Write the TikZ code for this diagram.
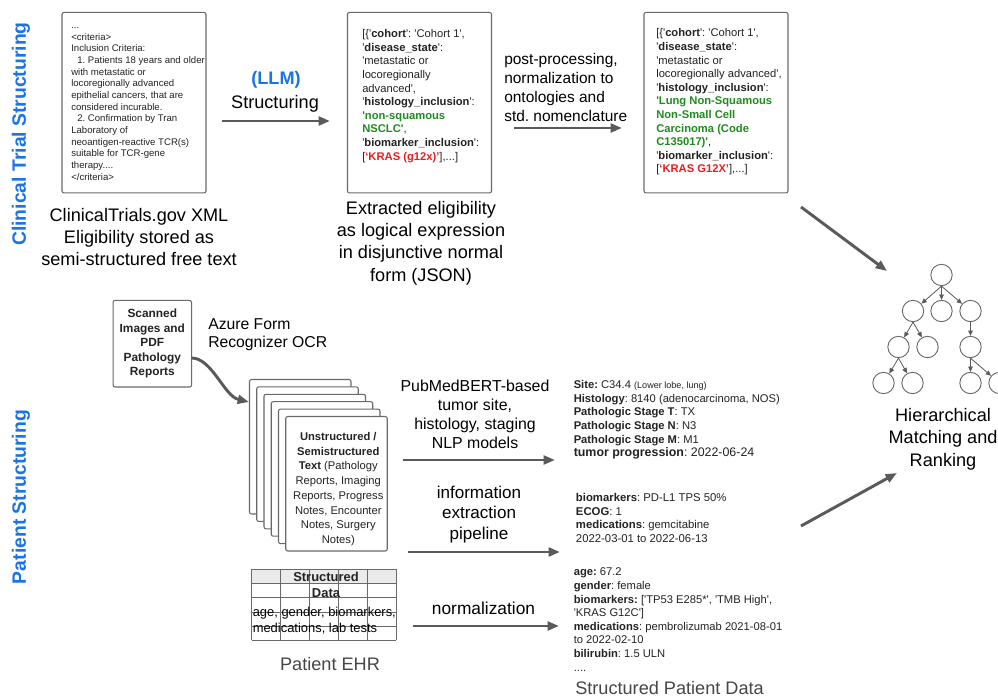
\documentclass[tikz,border=0pt]{standalone}
\usepackage{fontspec}
\setmainfont{Liberation Sans}[Ligatures=TeXOff]
\usetikzlibrary{arrows.meta}
\definecolor{ctblue}{RGB}{26,115,232}
\definecolor{jsgreen}{RGB}{30,140,30}
\definecolor{jsred}{RGB}{235,30,30}
\definecolor{arrgray}{RGB}{90,90,90}
\definecolor{boxgray}{RGB}{105,105,105}
\definecolor{txtdark}{RGB}{35,35,35}
\definecolor{capgray}{RGB}{70,70,70}
\frenchspacing

\begin{document}
\begin{tikzpicture}[x=0.75pt,y=-0.75pt,
  doc/.style={draw=boxgray,line width=0.8pt,rounded corners=1.5pt,fill=white},
  flow/.style={draw=arrgray,line width=2.2pt,-{Triangle[length=8.5pt,width=6.5pt]}},
  treearr/.style={draw=arrgray,line width=0.6pt,-{Triangle[length=4pt,width=3.5pt]}},
  leaf/.style={circle,draw=boxgray,line width=0.7pt,minimum size=16pt,inner sep=0pt},
  capt/.style={font=\fontsize{13.6}{16.7}\selectfont,align=center,inner sep=0pt},
  lbl/.style={font=\fontsize{11.8}{14.2}\selectfont,align=center,inner sep=0pt},
  small/.style={font=\fontsize{8.4}{10.2}\selectfont,align=left,inner sep=0pt,text=txtdark},
  sidelab/.style={rotate=90,text=ctblue,font=\bfseries\fontsize{14.5}{17}\selectfont}
]
\path[fill=white] (0,0) rectangle (998,698);
\useasboundingbox (0,0) rectangle (998,698);

% side labels
\node[sidelab] (ctlab) at (21,134) {Clinical Trial Structuring};
\node[sidelab] (ptlab) at (21,497) {Patient Structuring};

% ---- trial structuring row ----
\node[doc,minimum width=108pt,minimum height=135.4pt] (xml) at (134,102.7) {};
\node[small,anchor=west,font=\fontsize{7.2}{8.75}\selectfont] (xmltxt) at (71,104) {...\\
<criteria>\\
Inclusion Criteria:\\
\hspace*{4.5pt}1. Patients 18 years and older\\
with metastatic or\\
locoregionally advanced\\
epithelial cancers, that are\\
considered incurable.\\
\hspace*{4.5pt}2. Confirmation by Tran\\
Laboratory of\\
neoantigen-reactive TCR(s)\\
suitable for TCR-gene\\
therapy....\\
</criteria>};
\node[capt] (xmlcap) at (139,237) {ClinicalTrials.gov XML\\Eligibility stored as\\semi-structured free text};

\node[text=ctblue,font=\bfseries\fontsize{13.6}{16}\selectfont] (llm) at (276,80) {(LLM)};
\node[font=\fontsize{13.6}{16}\selectfont] (struc) at (275,103.5) {Structuring};
\coordinate (llmS) at (222,121);
\coordinate (llmE) at (330,121);
\draw[flow] (llmS) -- (llmE);

\node[doc,minimum width=108pt,minimum height=135.4pt] (dnf) at (419.5,102.7) {};
\node[small,anchor=west] (dnftxt) at (362,96) {[\{'\textbf{cohort}': 'Cohort 1',\\
'\textbf{disease\_state}':\\
'metastatic or\\
locoregionally\\
advanced',\\
'\textbf{histology\_inclusion}':\\
\textcolor{jsgreen}{\textbf{'non-squamous}}\\
\textcolor{jsgreen}{\textbf{NSCLC'}},\\
'\textbf{biomarker\_inclusion}':\\
{[}\textcolor{jsred}{\textbf{‘KRAS (g12x)’}}],...]};
\node[capt] (dnfcap) at (421,243) {Extracted eligibility\\as logical expression\\in disjunctive normal\\form (JSON)};

\node[lbl,align=left,anchor=west,font=\fontsize{11.6}{14.2}\selectfont] (postlab) at (504,87.5) {post-processing,\\normalization to\\ontologies and\\std. nomenclature};
\coordinate (postS) at (514,128);
\coordinate (postE) at (622,128);
\draw[flow] (postS) -- (postE);

\node[doc,minimum width=108pt,minimum height=135.4pt] (norm) at (716,102.7) {};
\node[small,anchor=west] (normtxt) at (656,102) {[\{'\textbf{cohort}': 'Cohort 1',\\
'\textbf{disease\_state}':\\
'metastatic or\\
locoregionally advanced',\\
'\textbf{histology\_inclusion}':\\
\textcolor{jsgreen}{\textbf{'Lung Non-Squamous}}\\
\textcolor{jsgreen}{\textbf{Non-Small Cell}}\\
\textcolor{jsgreen}{\textbf{Carcinoma (Code}}\\
\textcolor{jsgreen}{\textbf{C135017)'}},\\
'\textbf{biomarker\_inclusion}':\\
{[}\textcolor{jsred}{\textbf{‘KRAS G12X’}}],...]};

% ---- matching tree ----
\coordinate (trialS) at (801,207);
\coordinate (trialE) at (887,271);
\draw[flow] (trialS) -- (trialE);
\coordinate (patS) at (801,526);
\coordinate (patE) at (897,473);
\draw[flow] (patS) -- (patE);

\node[leaf] (t0) at (941.5,275) {};
\node[leaf] (t1a) at (913,311) {};
\node[leaf] (t1b) at (941.5,311) {};
\node[leaf] (t1c) at (970.5,311) {};
\node[leaf] (t2a) at (898.5,347) {};
\node[leaf] (t2b) at (927.5,347) {};
\node[leaf] (t2c) at (970.5,347) {};
\node[leaf] (t3a) at (883.5,383) {};
\node[leaf] (t3b) at (912.5,383) {};
\node[leaf] (t3c) at (970.5,383) {};
\node[leaf] (t3d) at (999.5,383) {};
\draw[treearr] (t0.south) -- (t1a);
\draw[treearr] (t0.south) -- (t1b);
\draw[treearr] (t0.south) -- (t1c);
\draw[treearr] (t1a.south) -- (t2a);
\draw[treearr] (t1a.south) -- (t2b);
\draw[treearr] (t1c.south) -- (t2c);
\draw[treearr] (t2a.south) -- (t3a);
\draw[treearr] (t2a.south) -- (t3b);
\draw[treearr] (t2c.south) -- (t3c);
\draw[treearr] (t2c.south) -- (t3d);
\node[capt,font=\fontsize{13.6}{16.9}\selectfont] (rank) at (943,439) {Hierarchical\\Matching and\\Ranking};

% ---- patient structuring ----
\node[doc,minimum width=58.9pt,minimum height=64.9pt,align=center,text=txtdark,
  font=\bfseries\fontsize{8.9}{10.9}\selectfont] (scan) at (152.3,343.7) {Scanned\\Images and\\PDF\\Pathology\\Reports};
\node[lbl,align=left,anchor=west,font=\fontsize{11.8}{13.7}\selectfont] (ocr) at (208,335) {Azure Form\\Recognizer OCR};
\coordinate (ocrS) at (191.5,358);
\coordinate (ocrE) at (249,402);
\draw[flow] (ocrS) .. controls (212,358) and (224,396) .. (ocrE);

\foreach \k in {0,...,5}
  \draw[doc] (249.5+7.25*\k,379.5+7.4*\k) rectangle ++(101.5,134.5);
\node[align=center,inner sep=0pt,text=txtdark,font=\fontsize{8.4}{11.07}\selectfont] (notes) at (338.3,489)
  {\textbf{Unstructured /}\\\textbf{Semistructured}\\\textbf{Text} (Pathology\\Reports, Imaging\\Reports, Progress\\Notes, Encounter\\Notes, Surgery\\Notes)};

\node[lbl,font=\fontsize{11.9}{14.2}\selectfont] (nlp) at (475,414) {PubMedBERT-based\\tumor site,\\histology, staging\\NLP models};
\coordinate (nlpS) at (403,460);
\coordinate (nlpE) at (555,460);
\draw[flow] (nlpS) -- (nlpE);
\node[small,anchor=west] (tumor) at (573.5,420) {\textbf{Site:} C34.4 {\fontsize{6.8}{8}\selectfont(Lower lobe, lung)}\\
\textbf{Histology}: 8140 (adenocarcinoma, NOS)\\
\textbf{Pathologic Stage T}: TX\\
\textbf{Pathologic Stage N}: N3\\
\textbf{Pathologic Stage M}: M1\\
{\fontsize{9.3}{11.5}\selectfont\textbf{tumor progression}: 2022-06-24}};

\node[lbl,font=\fontsize{12.8}{15.6}\selectfont] (iep) at (479,514.5) {information\\extraction\\pipeline};
\coordinate (iepS) at (408,552);
\coordinate (iepE) at (560,552);
\draw[flow] (iepS) -- (iepE);
\node[small,anchor=west,font=\fontsize{8.5}{10.4}\selectfont] (meds) at (575.7,518) {\textbf{biomarkers}: PD-L1 TPS 50\%\\
\textbf{ECOG}: 1\\
\textbf{medications}: gemcitabine\\
2022-03-01 to 2022-06-13};

% structured data table
\fill[black!8] (251.5,569) rectangle (396,583);
\foreach \c in {251.5,280.5,309.5,338.5,367.5,396}
  \draw[boxgray,line width=0.75pt] (\c,569) -- (\c,640);
\foreach \r in {569,583,597,612,626,640}
  \draw[boxgray,line width=0.75pt] (251.5,\r) -- (396,\r);
\node[align=center,inner sep=0pt,text=txtdark,font=\bfseries\fontsize{9.7}{12.5}\selectfont] (sdtitle) at (326,585) {Structured\\Data};
\node[anchor=west,align=left,inner sep=0pt,font=\fontsize{9.7}{11.7}\selectfont] (sdfields) at (252.5,620.5) {age, gender, biomarkers,\\medications, lab tests};
\node[capt,text=capgray] (ehr) at (330,664) {Patient EHR};

\node[font=\fontsize{13}{15}\selectfont] (normlab) at (483.5,608.5) {normalization};
\coordinate (normS) at (413,626);
\coordinate (normE) at (559,626);
\draw[flow] (normS) -- (normE);
\node[small,anchor=west] (spd) at (573.5,619.5) {\textbf{age:} 67.2\\
\textbf{gender}: female\\
\textbf{biomarkers:} ['TP53 E285*', 'TMB High',\\
'KRAS G12C']\\
\textbf{medications}: pembrolizumab 2021-08-01\\
to 2022-02-10\\
\textbf{bilirubin}: 1.5 ULN\\
....};
\node[capt,anchor=west,text=capgray] (spdcap) at (575,688.5) {Structured Patient Data};
\end{tikzpicture}
\end{document}
